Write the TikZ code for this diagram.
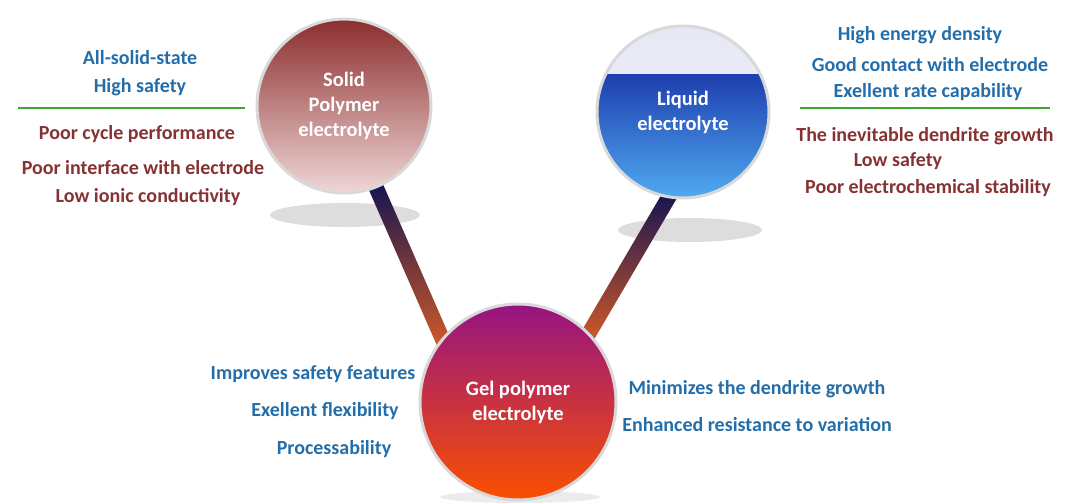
\documentclass[tikz,border=0pt]{standalone}
\usepackage{fontspec}
\setmainfont{Carlito}
\definecolor{tblue}{RGB}{35,110,170}
\definecolor{tred}{RGB}{135,50,50}
\definecolor{lgreen}{RGB}{60,170,50}
\begin{document}
\begin{tikzpicture}[x=1pt,y=-1pt,
  lbl/.style={font=\bfseries\fontsize{20}{23}\selectfont},
  pro/.style={lbl,text=tblue},
  con/.style={lbl,text=tred},
  ball/.style={circle,draw=gray!30,line width=3pt,text=white,align=center,font=\bfseries\fontsize{20.5}{25}\selectfont}]
\useasboundingbox (0,0) rectangle (1066,503);
% shadows
\fill[gray!45,opacity=.6] (345,215) ellipse (75 and 12);
\fill[gray!45,opacity=.6] (690,230) ellipse (72 and 12);
\fill[gray!30,opacity=.5] (520,497) ellipse (80 and 6);
% stems
\shade[top color={rgb,255:red,20;green,20;blue,80},bottom color={rgb,255:red,210;green,90;blue,40}]
  (368,188) -- (382,182) -- (452,342) -- (438,348) -- cycle;
\shade[top color={rgb,255:red,20;green,20;blue,80},bottom color={rgb,255:red,210;green,90;blue,40}]
  (663,192) -- (677,198) -- (592,343) -- (578,337) -- cycle;
% balls
\shade[top color={rgb,255:red,140;green,45;blue,45},middle color={rgb,255:red,195;green,85;blue,85},bottom color={rgb,255:red,240;green,215;blue,215}] (344,106) circle (87);
\node[ball,minimum size=174pt] (solid) at (344,106) {Solid\\Polymer\\electrolyte};
\shade[top color={rgb,255:red,10;green,20;blue,150},middle color={rgb,255:red,30;green,60;blue,210},bottom color={rgb,255:red,80;green,170;blue,240}] (683,112) circle (86);
\fill[white,opacity=.9] (683,112) ++(-77,-38) arc (206:334:85.5) -- cycle;
\node[ball,minimum size=172pt] (liquid) at (683,112) {Liquid\\electrolyte};
\shade[top color={rgb,255:red,150;green,20;blue,130},middle color={rgb,255:red,235;green,0;blue,50},bottom color={rgb,255:red,250;green,80;blue,0}] (518,402) circle (98);
\node[ball,minimum size=196pt] (gel) at (518,402) {Gel polymer\\electrolyte};
% green lines
\draw[lgreen,line width=2pt] (18,108) -- (245,108);
\draw[lgreen,line width=2pt] (800,108) -- (1050,108);
% texts
\node[pro] (a1) at (140,58) {All-solid-state};
\node[pro] (a2) at (140,87) {High safety};
\node[con] (a3) at (137,134) {Poor cycle performance};
\node[con] (a4) at (143,168) {Poor interface with electrode};
\node[con] (a5) at (148,197) {Low ionic conductivity};
\node[pro] (b1) at (920,35) {High energy density};
\node[pro] (b2) at (930,65) {Good contact with electrode};
\node[pro] (b3) at (928,92) {Exellent rate capability};
\node[con] (b4) at (925,136) {The inevitable dendrite growth};
\node[con] (b5) at (898,161) {Low safety};
\node[con] (b6) at (928,188) {Poor electrochemical stability};
\node[pro] (c1) at (313,374) {Improves safety features};
\node[pro] (c2) at (325,411) {Exellent flexibility};
\node[pro] (c3) at (334,449) {Processability};
\node[pro] (d1) at (757,389) {Minimizes the dendrite growth};
\node[pro] (d2) at (757,425) {Enhanced resistance to variation};
\end{tikzpicture}
\end{document}
